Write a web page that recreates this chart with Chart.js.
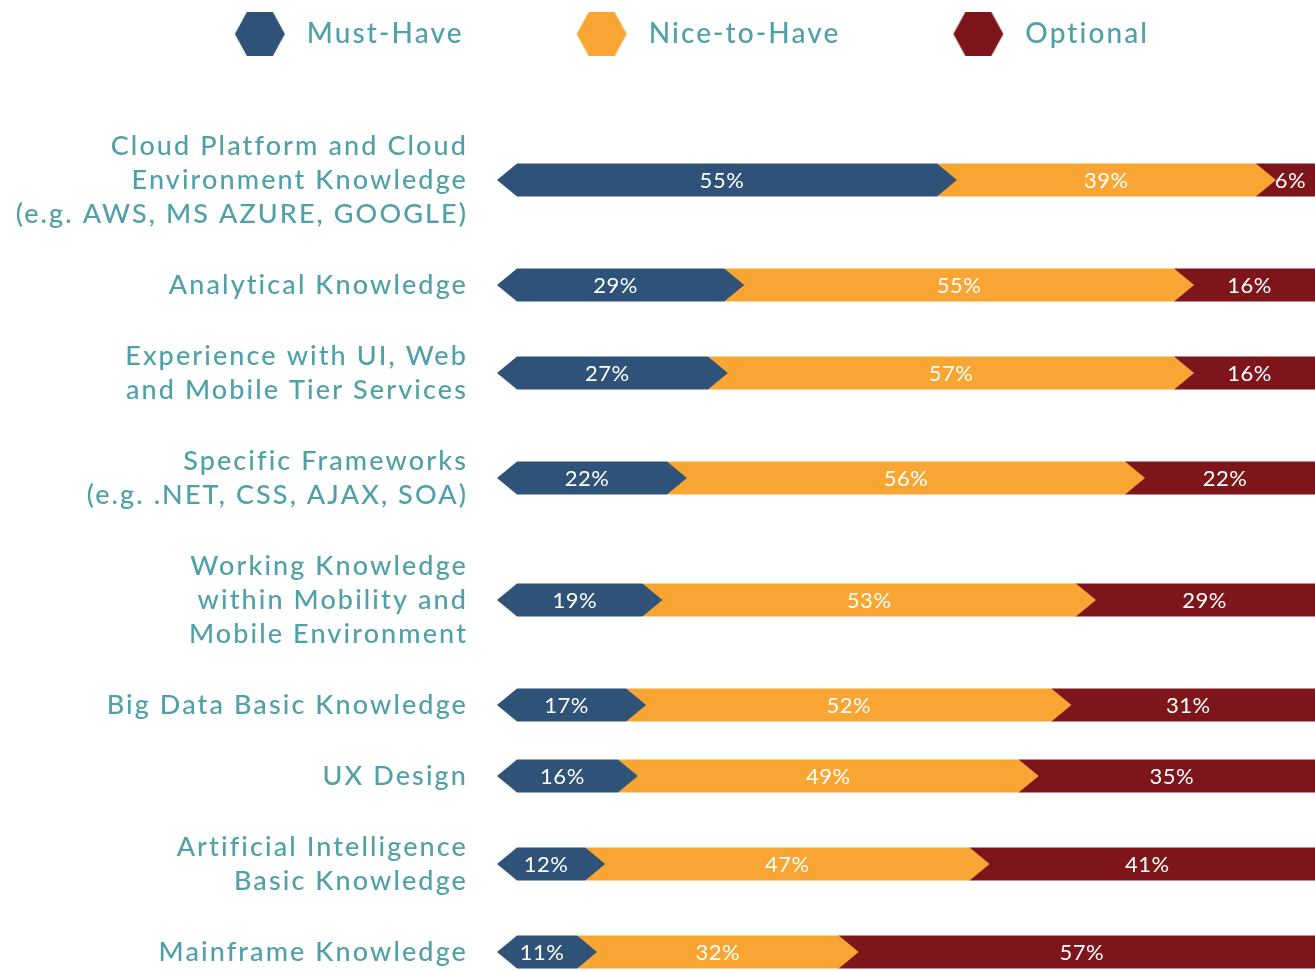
<!DOCTYPE html>
<html>
<head>
<meta charset="utf-8">
<script src="https://cdn.jsdelivr.net/npm/chart.js@4.4.1/dist/chart.umd.min.js"></script>
<style>
  html, body { margin: 0; padding: 0; background: #fff; }
  #wrap { width: 1315px; height: 971px; }
</style>
</head>
<body>
<div id="wrap"><canvas id="skillsChart"></canvas></div>
<script>
// categories (one entry per line of the axis label)
const skills = [
  ["Cloud Platform and Cloud", "Environment Knowledge", "(e.g. AWS, MS AZURE, GOOGLE)"],
  ["Analytical Knowledge"],
  ["Experience with UI, Web", "and Mobile Tier Services"],
  ["Specific Frameworks", "(e.g. .NET, CSS, AJAX, SOA)"],
  ["Working Knowledge", "within Mobility and", "Mobile Environment"],
  ["Big Data Basic Knowledge"],
  ["UX Design"],
  ["Artificial Intelligence", "Basic Knowledge"],
  ["Mainframe Knowledge"]
];
const seriesNames = ["Must-Have", "Nice-to-Have", "Optional"];
const mustHave   = [55, 29, 27, 22, 19, 17, 16, 12, 11];
const niceToHave = [39, 55, 57, 56, 53, 52, 49, 47, 32];
const optional   = [6, 16, 16, 22, 29, 31, 35, 41, 57];

const colors = ["#2f5279", "#f8a533", "#7e151b"];
const TEAL = "#4fa1a9";
const LINE_H = 34, ROW_GAP = 37, CHEVRON = 20;

// rows sit further apart when their label wraps onto more lines
const rowPos = [];
skills.forEach((lines, i) => {
  rowPos.push(i === 0 ? 0 : rowPos[i - 1] + (skills[i - 1].length + lines.length) * LINE_H / 2 + ROW_GAP);
});

function hexIcon(color) {
  const lead = 69, w = 50, h = 44;
  const c = document.createElement("canvas");
  c.width = lead + w + 8;
  c.height = h;
  const g = c.getContext("2d");
  g.fillStyle = color;
  g.beginPath();
  g.moveTo(lead, h / 2);
  g.lineTo(lead + 12, 0);
  g.lineTo(lead + w - 12, 0);
  g.lineTo(lead + w, h / 2);
  g.lineTo(lead + w - 12, h);
  g.lineTo(lead + 12, h);
  g.closePath();
  g.fill();
  return c;
}

// the artwork uses tracked-out lettering
const spacing = {
  id: "spacing",
  beforeUpdate(chart) { chart.ctx.letterSpacing = "2.1px"; },
  beforeDraw(chart) { chart.ctx.letterSpacing = "2.1px"; }
};

const chevrons = {
  id: "chevrons",
  afterDatasetsDraw(chart) {
    const ctx = chart.ctx;
    const last = chart.data.datasets.length - 1;
    ctx.save();
    for (let d = last; d >= 0; d--) {
      chart.getDatasetMeta(d).data.forEach(bar => {
        const { x, y, base, height } = bar.getProps(["x", "y", "base", "height"], true);
        const top = y - height / 2, bot = y + height / 2;
        ctx.beginPath();
        if (d === 0) {
          ctx.moveTo(base, y);
          ctx.lineTo(base + CHEVRON, top);
        } else {
          ctx.moveTo(base - CHEVRON / 2, top);
        }
        if (d === last) {
          ctx.lineTo(x, top);
          ctx.lineTo(x, bot);
        } else {
          ctx.lineTo(x - CHEVRON / 2, top);
          ctx.lineTo(x + CHEVRON / 2, y);
          ctx.lineTo(x - CHEVRON / 2, bot);
        }
        ctx.lineTo(d === 0 ? base + CHEVRON : base - CHEVRON / 2, bot);
        ctx.closePath();
        ctx.fillStyle = colors[d];
        ctx.fill();
      });
    }
    // value labels
    ctx.fillStyle = "#fff";
    ctx.font = "22px Lato";
    ctx.letterSpacing = "0.5px";
    ctx.textAlign = "center";
    ctx.textBaseline = "middle";
    chart.data.datasets.forEach((ds, d) => {
      chart.getDatasetMeta(d).data.forEach((bar, i) => {
        const { x, y, base } = bar.getProps(["x", "y", "base"], true);
        ctx.fillText(ds.data[i].x + "%", (x + base) / 2, y + 1);
      });
    });
    ctx.restore();
  }
};

window.addEventListener("load", () => {
  const ctx = document.getElementById("skillsChart").getContext("2d");
  Chart.defaults.font.family = "Lato";

  const series = [mustHave, niceToHave, optional];

  new Chart(ctx, {
    type: "bar",
    data: {
      datasets: series.map((vals, d) => ({
        label: seriesNames[d],
        data: vals.map((v, i) => ({ x: v, y: rowPos[i] })),
        backgroundColor: "rgba(0,0,0,0)",
        pointStyle: hexIcon(colors[d]),
        barThickness: 33
      }))
    },
    options: {
      indexAxis: "y",
      responsive: true,
      maintainAspectRatio: false,
      animation: false,
      layout: { autoPadding: false, padding: { top: -24, left: 0, right: 0, bottom: 0 } },
      plugins: {
        tooltip: { enabled: false },
        legend: {
          position: "top",
          labels: {
            usePointStyle: true,
            pointStyleWidth: 127,
            padding: 44,
            color: TEAL,
            font: { size: 28, weight: 500 }
          }
        }
      },
      scales: {
        x: { stacked: true, min: 0, max: 100, display: false },
        y: {
          type: "linear",
          stacked: true,
          reverse: true,
          offset: false,
          min: rowPos[0] - 122,
          max: rowPos[rowPos.length - 1] + 19,
          grid: { display: false, drawTicks: false },
          border: { display: false },
          afterBuildTicks: scale => { scale.ticks = rowPos.map(v => ({ value: v })); },
          afterFit: scale => {
            scale.width = 497;
            scale.paddingTop = 0;
            scale.paddingBottom = 0;
          },
          ticks: {
            autoSkip: false,
            padding: 29,
            color: TEAL,
            font: { size: 27, weight: 500, lineHeight: LINE_H / 27 },
            callback: (value, i) => skills[i]
          }
        }
      }
    },
    plugins: [spacing, chevrons]
  });
});
</script>
</body>
</html>
